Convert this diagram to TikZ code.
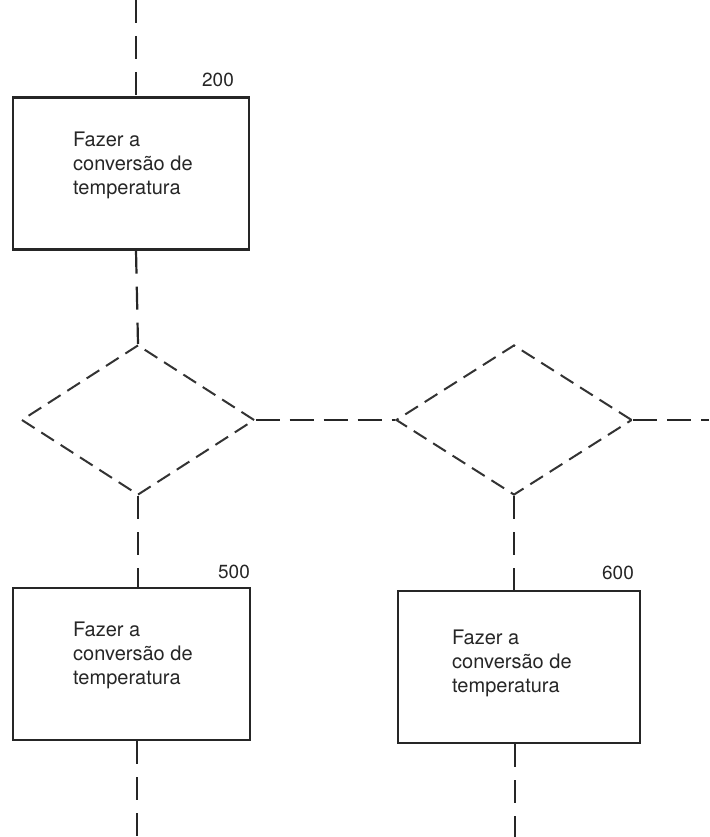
\documentclass[tikz,border=0pt]{standalone}
\usepackage{fontspec}
\setmainfont{TeX Gyre Heros}
\usetikzlibrary{shapes.geometric}
\begin{document}
\begin{tikzpicture}[x=1pt,y=-1pt,
  every node/.style={text=black!85},
  proc/.style={draw=black!85, line width=2.2pt, rectangle, inner sep=0pt, minimum height=152pt},
  dec/.style={draw=black!80, diamond, line width=2pt, dash pattern=on 15pt off 8pt, inner sep=0pt, minimum height=150pt},
  ln/.style={draw=black!85, line width=2.2pt, dash pattern=on 23pt off 13pt},
  hln/.style={draw=black!85, line width=2.2pt, dash pattern=on 24pt off 10pt},
  txt/.style={anchor=north west, align=left, inner sep=0pt, font=\fontsize{20}{24}\selectfont},
  num/.style={inner sep=0pt, font=\fontsize{19}{22}\selectfont}]
\useasboundingbox (0,0) rectangle (709,837);

% boxes
\node[proc, minimum width=236pt] (b200) at (131,173.5) {};
\node[proc, minimum width=237pt] (b500) at (131.5,664) {};
\node[proc, minimum width=242pt] (b600) at (519,667) {};

% box texts
\node[txt] (t200) at (73,132) {Fazer a\\conversão de\\temperatura};
\node[txt] (t500) at (73,622) {Fazer a\\conversão de\\temperatura};
\node[txt] (t600) at (452,630) {Fazer a\\conversão de\\temperatura};

% numbers
\node[num] (n200) at (218,80) {200};
\node[num] (n500) at (234,572) {500};
\node[num] (n600) at (618,573) {600};

% decisions
\node[dec, minimum width=233pt] (d1) at (138,420) {};
\node[dec, minimum width=236pt] (d2) at (514,420) {};

% free ends
\coordinate (top) at (136,0);
\coordinate (right) at (709,420);
\coordinate (bl) at (137,837);
\coordinate (br) at (515,837);

% connectors
\draw[ln] (top) -- (top |- b200.north);
\draw[ln] (top |- b200.south) -- (d1.north);
\draw[ln] (d1.south) -- (d1.south |- b500.north);
\draw[hln] (d1.east) -- (d2.west);
\draw[hln] (d2.east) -- (right);
\draw[ln] (d2.south) -- (d2.south |- b600.north);
\draw[ln] (bl |- b500.south) -- (bl);
\draw[ln] (br |- b600.south) -- (br);
\end{tikzpicture}
\end{document}
